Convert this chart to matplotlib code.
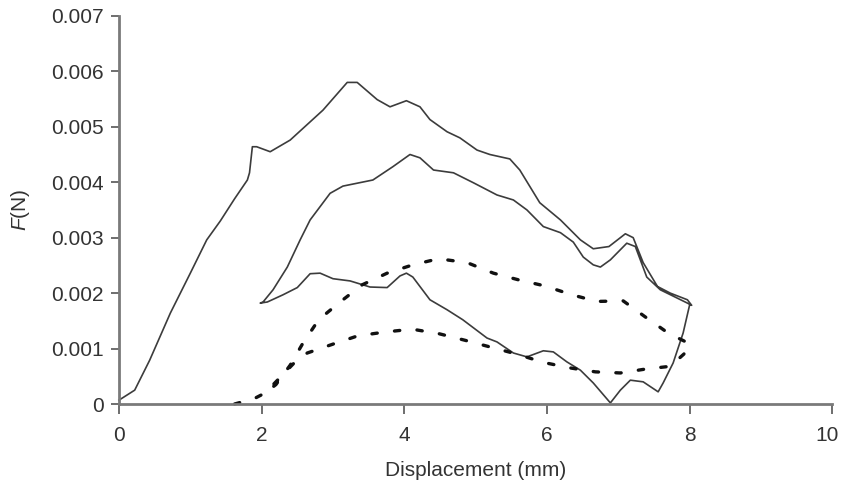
import matplotlib
matplotlib.use("Agg")
import matplotlib.pyplot as plt
from matplotlib.transforms import ScaledTranslation

plt.rcParams['font.family'] = ['Liberation Sans', 'DejaVu Sans']
plt.rcParams['mathtext.fontset'] = 'custom'
plt.rcParams['mathtext.it'] = 'Liberation Sans:italic'
plt.rcParams['mathtext.rm'] = 'Liberation Sans'

# solid curve: loading 0 -> 8, unloading back to 2, reloading to 8
solid_x = [0.0, 0.22, 0.43, 0.72, 1.0, 1.23, 1.42, 1.62, 1.80, 1.83, 1.87, 1.93, 2.12,
           2.40, 2.86, 3.20, 3.34, 3.62, 3.80, 4.03, 4.22, 4.36, 4.60, 4.78, 5.02,
           5.20, 5.48, 5.62, 5.90, 6.19, 6.47, 6.65, 6.87, 7.10, 7.21, 7.35, 7.55,
           7.73, 7.97, 8.03,
           7.97, 7.59, 7.40, 7.24, 7.12, 6.89, 6.75, 6.65, 6.51, 6.37, 6.19, 5.95,
           5.72, 5.53, 5.30, 4.97, 4.69, 4.41, 4.22, 4.08, 3.84, 3.56, 3.14, 2.96,
           2.68, 2.54, 2.36, 2.16, 2.02, 1.98,
           2.08, 2.30, 2.50, 2.68, 2.82, 3.0, 3.24, 3.52, 3.76, 3.94, 4.03, 4.12,
           4.36, 4.60, 4.82, 5.16, 5.30, 5.53, 5.72, 5.95, 6.09, 6.28, 6.47, 6.65,
           6.89, 7.03, 7.17, 7.35, 7.56, 7.63, 7.77, 7.91, 8.0]
solid_y = [0.00007, 0.00025, 0.00079, 0.00164, 0.00236, 0.00296, 0.0033, 0.0037,
           0.00404, 0.00417, 0.00464, 0.00464, 0.00455, 0.00476, 0.0053, 0.0058,
           0.0058, 0.00549, 0.00536, 0.00547, 0.00536, 0.00513, 0.00491, 0.0048,
           0.00458, 0.0045, 0.00442, 0.00422, 0.00363, 0.00332, 0.00296, 0.0028,
           0.00284, 0.00307, 0.003, 0.00255, 0.00212, 0.002, 0.00188, 0.00178,
           0.00182, 0.00206, 0.00229, 0.00284, 0.0029, 0.0026, 0.00247, 0.00251,
           0.00265, 0.00292, 0.00309, 0.0032, 0.0035, 0.00368, 0.00377, 0.00399,
           0.00417, 0.00422, 0.00444, 0.0045, 0.00428, 0.00404, 0.00393, 0.0038,
           0.00332, 0.00296, 0.00247, 0.00206, 0.00184, 0.00182,
           0.00184, 0.00197, 0.0021, 0.00235, 0.00236, 0.00226, 0.00222, 0.00211,
           0.0021, 0.00231, 0.00236, 0.00229, 0.00188, 0.0017, 0.00152, 0.00119,
           0.00112, 0.00092, 0.00085, 0.00096, 0.00094, 0.00076, 0.00061, 0.00038,
           0.00002, 0.00025, 0.00043, 0.0004, 0.00022, 0.00038, 0.00074, 0.00128,
           0.00178]

# dashed curve
dash_x = [1.62, 1.9, 2.05, 2.2, 2.35, 2.5, 2.64, 2.82, 3.0, 3.35, 3.74, 4.11, 4.48,
          4.85, 5.2, 5.58, 5.95, 6.33, 6.68, 7.03, 7.38, 7.73, 7.92, 8.0,
          7.98, 7.7, 7.38, 7.07, 6.7, 6.35, 5.97, 5.6, 5.25, 4.88, 4.48, 4.12,
          3.76, 3.41, 3.1, 2.8, 2.58, 2.4, 2.2, 2.05]
dash_y = [0.0, 0.0001, 0.0002, 0.0004, 0.0006, 0.0008, 0.00092, 0.001, 0.00108,
          0.00123, 0.0013, 0.00135, 0.00127, 0.00115, 0.00103, 0.0009, 0.00075,
          0.00065, 0.00058, 0.00056, 0.00063, 0.00068, 0.0009, 0.00105,
          0.0011, 0.00128, 0.00157, 0.00186, 0.00185, 0.00197, 0.00213, 0.00224,
          0.00236, 0.00255, 0.00262, 0.00251, 0.00236, 0.00215, 0.00184, 0.00152,
          0.0011, 0.0007, 0.00035, 0.0002]

x_ticks = [0, 2, 4, 6, 8, 10]
y_ticks = [0, 0.001, 0.002, 0.003, 0.004, 0.005, 0.006, 0.007]
y_labels = ['0', '0.001', '0.002', '0.003', '0.004', '0.005', '0.006', '0.007']

fig = plt.figure(figsize=(8.41, 4.87), dpi=100)
ax = fig.add_axes([0.1415, 0.1704, 0.848, 0.797])

ax.plot(solid_x, solid_y, color='#3c3c3c', lw=1.2, clip_on=False,
        solid_joinstyle='round')
ax.plot(dash_x, dash_y, color='#111111', lw=2.4, dashes=(1.6, 5.2),
        dash_capstyle='round', clip_on=False)

ax.set_xlim(0, 10)
ax.set_ylim(0, 0.007)
ax.set_xticks(x_ticks)
ax.set_yticks(y_ticks)
ax.set_yticklabels(y_labels)

for side in ['top', 'right']:
    ax.spines[side].set_visible(False)
for side in ['left', 'bottom']:
    ax.spines[side].set_color('#7a7a7a')
    ax.spines[side].set_linewidth(2.0)

ax.tick_params(direction='out', width=1.2, color='#555555',
               labelsize=15, labelcolor='#333333')
ax.tick_params(axis='x', length=7.5, pad=8)
ax.tick_params(axis='y', length=6, pad=5)
ax.set_xlabel('Displacement (mm)', fontsize=15, color='#333333', labelpad=12)
ax.set_ylabel(r'$\mathit{F}$(N)', fontsize=15, color='#333333', labelpad=14)

# keep the last x tick label inside the canvas
last = ax.get_xticklabels()[-1]
last.set_transform(last.get_transform() +
                   ScaledTranslation(-4 / 72, 0, fig.dpi_scale_trans))

fig.savefig('out.png', dpi=100)
